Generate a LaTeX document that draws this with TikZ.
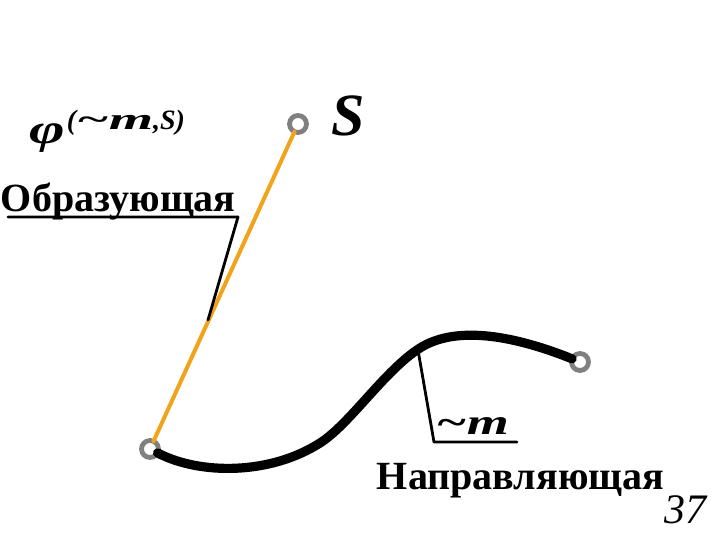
\documentclass[tikz,border=0pt]{standalone}
\usepackage{fontspec}
\usepackage{graphicx}
\setmainfont{Liberation Serif}
\definecolor{genline}{RGB}{242,163,28}
\definecolor{ringgray}{RGB}{128,128,128}
\begin{document}
\begin{tikzpicture}[x=0.5pt,y=-0.5pt,line join=round,line cap=round]
	\tikzset{every node/.style={inner sep=0pt,outer sep=0pt},
		ring/.style={circle,draw=ringgray,line width=2.4pt,fill=white,minimum size=8.5pt},
		leader/.style={black,line width=1.4pt},
		lbl/.style={anchor=base west,font=\bfseries\fontsize{20}{24}\selectfont}}
	\useasboundingbox (0,0) rectangle (720,540);
	\node[ring] (S) at (298,124) {};
	\node[ring] (A) at (150,449) {};
	\node[ring] (B) at (580,362) {};
	\draw[genline,line width=2pt] (A) -- (S);
	\draw[line width=4.6pt] (A) .. controls (200,475) and (270,475) .. (320,443)
		.. controls (350,424) and (385,370) .. (420,348)
		.. controls (450,329) and (500,330) .. (B);
	% labels
	\node[anchor=base west,font=\bfseries\itshape\fontsize{30}{36}\selectfont] (Slbl) at (332,136) {S};
	\node[anchor=base west,font=\bfseries\itshape\fontsize{21}{24}\selectfont] (phi) at (30,144) {\scalebox{1.45}[1]{φ}};
	\node[anchor=base west,font=\bfseries\itshape\fontsize{14}{16}\selectfont] (arg) at (67,130)
		{(\scalebox{1.9}[1]{\fontsize{15}{17}\selectfont\textasciitilde m},S)};
	\node[lbl] (gen) at (1,212) {Образующая};
	\node[lbl] (dir) at (377,490) {Направляющая};
	\node[anchor=base west,font=\bfseries\itshape\fontsize{18}{22}\selectfont] (mlbl) at (436,435)
		{\scalebox{1.5}[1]{\textasciitilde m}};
	\node[anchor=base west,font=\itshape\fontsize{21}{24}\selectfont] (num) at (665,524) {37};
	% leaders
	\coordinate (g1) at (8,217);
	\coordinate (g2) at (238,217);
	\coordinate (g3) at (208,320);
	\draw[leader] (g1) -- (g2) -- (g3);
	\coordinate (m1) at (418,350);
	\coordinate (m2) at (434,442);
	\coordinate (m3) at (517,442);
	\draw[leader] (m1) -- (m2) -- (m3);
\end{tikzpicture}
\end{document}
